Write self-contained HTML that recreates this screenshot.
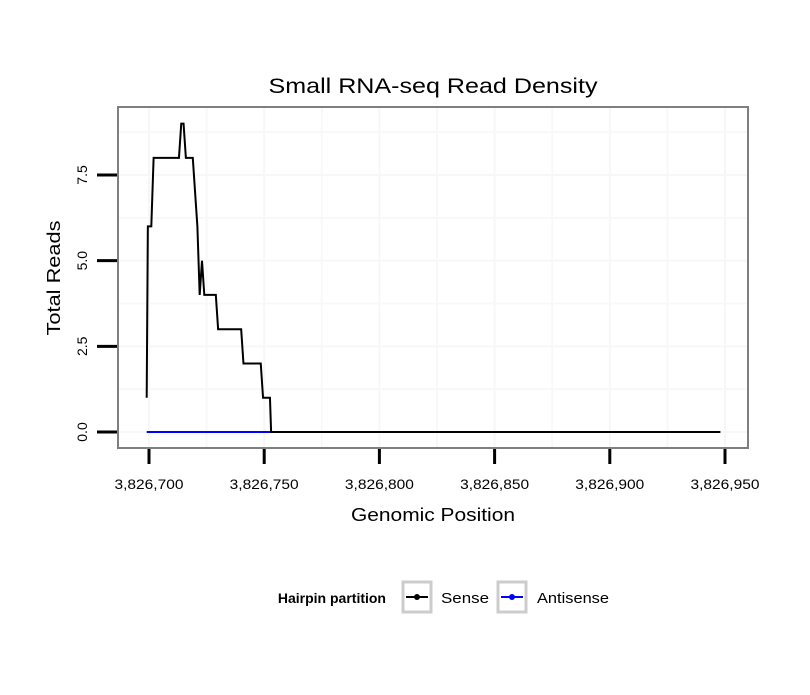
<!DOCTYPE html>
<html><head><meta charset="utf-8"><style>
body{margin:0;background:#fff}
text{font-family:"Liberation Sans",sans-serif}
</style></head><body>
<svg id="c" width="810" height="690" xmlns="http://www.w3.org/2000/svg">
<rect width="810" height="690" fill="#fff"/>
<g id="grid"></g>
<g id="series"></g>
<rect x="118" y="107" width="630" height="341" fill="none" stroke="#7f7f7f" stroke-width="2"/>
<g id="axes"></g>
<text x="433" y="93" font-size="21" text-anchor="middle" textLength="329" lengthAdjust="spacingAndGlyphs">Small RNA-seq Read Density</text>
<text x="433" y="521" font-size="18" text-anchor="middle" textLength="164" lengthAdjust="spacingAndGlyphs">Genomic Position</text>
<text transform="translate(60,278) rotate(-90)" font-size="18" text-anchor="middle" textLength="115" lengthAdjust="spacingAndGlyphs">Total Reads</text>
<g>
<text x="386" y="603" font-size="14" font-weight="bold" text-anchor="end">Hairpin partition</text>
<g>
<rect x="403" y="582" width="28" height="30" fill="#fff" stroke="#ccc" stroke-width="3"/>
<line x1="406" y1="597" x2="428" y2="597" stroke="#000" stroke-width="2"/>
<circle cx="417" cy="597" r="3" fill="#000"/>
<text x="441" y="603" font-size="15" textLength="48" lengthAdjust="spacingAndGlyphs">Sense</text></g>
<g>
<rect x="498" y="582" width="28" height="30" fill="#fff" stroke="#ccc" stroke-width="3"/>
<line x1="501" y1="597" x2="523" y2="597" stroke="#00f" stroke-width="2"/>
<circle cx="512" cy="597" r="3" fill="#00f"/>
<text x="537" y="603" font-size="15" textLength="72" lengthAdjust="spacingAndGlyphs">Antisense</text></g>
</g>
</svg>
<script>
const senseX=[3826699,3826699.5,3826701,3826702,3826713,3826714,3826715,3826716,3826719,3826721,3826722,3826723,3826724,3826729,3826730,3826740,3826741,3826748.5,3826749.5,3826752.5,3826753,3826948];
const senseY=[1,6,6,8,8,9,9,8,8,6,4,5,4,4,3,3,2,2,1,1,0,0];
const antiX=[3826699,3826753];
const antiY=[0,0];
const xTicks=[3826700,3826750,3826800,3826850,3826900,3826950];
const xTickLabels=["3,826,700","3,826,750","3,826,800","3,826,850","3,826,900","3,826,950"];
const yTicks=[0,2.5,5,7.5];
const yTickLabels=["0.0","2.5","5.0","7.5"];
const X=v=>149+(v-3826700)*2.304;
const Y=v=>432-v*34.27;
const NS="http://www.w3.org/2000/svg";
function mk(t,a,p){const e=document.createElementNS(NS,t);for(const k in a)e.setAttribute(k,a[k]);p.appendChild(e);return e;}
const grid=document.getElementById('grid'),axes=document.getElementById('axes'),ser=document.getElementById('series');
for(let i=0;i<xTicks.length;i++){
 const x=X(xTicks[i]);
 const g=mk('line',{x1:x,x2:x,y1:107,y2:448,stroke:'#f7f7f7','stroke-width':2},grid);
 
 
 if(i<xTicks.length-1){const m=X(xTicks[i]+25);const g2=mk('line',{x1:m,x2:m,y1:107,y2:448,stroke:'#f8f8f8','stroke-width':2},grid);
 
 }
 const t=mk('line',{x1:x,x2:x,y1:449,y2:464,stroke:'#000','stroke-width':3},axes);
 
 
 const l=mk('text',{x:x,y:489,'font-size':14,'text-anchor':'middle',textLength:69,lengthAdjust:'spacingAndGlyphs'},axes);l.textContent=xTickLabels[i];
 
 
}
for(let i=0;i<yTicks.length;i++){
 const y=Y(yTicks[i]);
 const g=mk('line',{x1:118,x2:748,y1:y,y2:y,stroke:'#f7f7f7','stroke-width':2},grid);
 
 
 const m=Y(yTicks[i]+1.25);const g2=mk('line',{x1:118,x2:748,y1:m,y2:m,stroke:'#f8f8f8','stroke-width':2},grid);
 
 
 const t=mk('line',{x1:97,x2:117,y1:y,y2:y,stroke:'#000','stroke-width':3},axes);
 
 
 const l=mk('text',{transform:`translate(87,${y}) rotate(-90)`,'font-size':14,'text-anchor':'middle'},axes);l.textContent=yTickLabels[i];
 
 
}
const a=mk('polyline',{points:antiX.map((v,i)=>X(v)+','+Y(antiY[i])).join(' '),fill:'none',stroke:'#00f','stroke-width':2},ser);


const s=mk('polyline',{points:senseX.map((v,i)=>X(v)+','+Y(senseY[i])).join(' '),fill:'none',stroke:'#000','stroke-width':2},ser);


</script>
</body></html>
